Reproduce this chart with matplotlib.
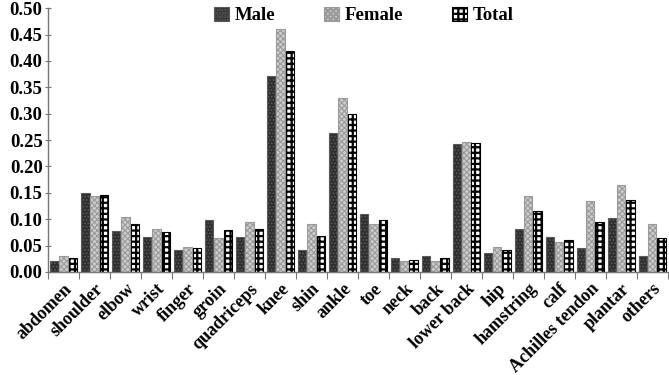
import numpy as np
import matplotlib
matplotlib.use("Agg")
import matplotlib.pyplot as plt

# Injury sites and proportions
sites = ['abdomen', 'shoulder', 'elbow', 'wrist', 'finger', 'groin', 'quadriceps',
         'knee', 'shin', 'ankle', 'toe', 'neck', 'back', 'lower back', 'hip',
         'hamstring', 'calf', 'Achilles tendon', 'plantar', 'others']
male = [0.020, 0.150, 0.077, 0.067, 0.041, 0.098, 0.066, 0.372, 0.042, 0.263,
        0.109, 0.026, 0.031, 0.242, 0.036, 0.082, 0.067, 0.046, 0.103, 0.031]
female = [0.030, 0.143, 0.104, 0.082, 0.048, 0.065, 0.095, 0.460, 0.090, 0.329,
          0.090, 0.021, 0.021, 0.247, 0.047, 0.143, 0.057, 0.134, 0.165, 0.090]
total = [0.026, 0.146, 0.091, 0.075, 0.045, 0.079, 0.082, 0.419, 0.068, 0.299,
         0.099, 0.023, 0.026, 0.245, 0.042, 0.116, 0.061, 0.094, 0.137, 0.064]
yticks = [0.00, 0.05, 0.10, 0.15, 0.20, 0.25, 0.30, 0.35, 0.40, 0.45, 0.50]

plt.rcParams['font.family'] = ['Liberation Serif', 'DejaVu Serif']
plt.rcParams['font.weight'] = 'bold'

fig = plt.figure(figsize=(6.69, 3.75), dpi=100)
ax = fig.add_axes([0.072, 0.275, 0.926, 0.703])

x = np.arange(len(sites))
w = 0.27
plt.rcParams['hatch.linewidth'] = 0.8
ax.bar(x - 0.3, male, w, color='#2e2e2e', edgecolor='#5a5a5a', hatch='.....',
       linewidth=0.8, label='Male')
ax.bar(x, female, w, color='#cdcdcd', edgecolor='#9a9a9a', hatch='xxxxxx',
       linewidth=0.8, label='Female')
plt.rcParams['hatch.linewidth'] = 1.6
ax.bar(x + 0.3, total, w, color='white', edgecolor='black', hatch='+++',
       linewidth=0.8, label='Total')

ax.set_xlim(-0.5, len(sites) - 0.5)
ax.set_ylim(0, 0.5)
ax.set_yticks(yticks)
ax.set_yticklabels(['%.2f' % v for v in yticks], fontsize=13.5, fontweight='bold')

# tick marks sit between the category groups, labels centred on groups
ax.set_xticks(np.arange(len(sites) + 1) - 0.5)
ax.set_xticklabels([])
ax.set_xticks(x, minor=True)
ax.set_xticklabels(sites, minor=True, rotation=45, ha='right', va='top',
                   rotation_mode='anchor', fontsize=13, fontweight='bold')
ax.tick_params(axis='x', which='major', length=5, direction='out', color='#777777')
ax.tick_params(axis='x', which='minor', length=0, pad=6)
ax.tick_params(axis='y', length=4, direction='inout', color='#777777', pad=2)

for side in ['top', 'right']:
    ax.spines[side].set_visible(False)
for side in ['left', 'bottom']:
    ax.spines[side].set_color('#777777')
    ax.spines[side].set_linewidth(1.0)

ax.legend(loc='upper center', bbox_to_anchor=(0.51, 1.07), ncol=3, frameon=False,
          prop={'size': 13.5, 'weight': 'bold'}, handlelength=0.8, handleheight=0.8,
          columnspacing=2.6, handletextpad=0.3)

fig.savefig('out.png', dpi=100)
